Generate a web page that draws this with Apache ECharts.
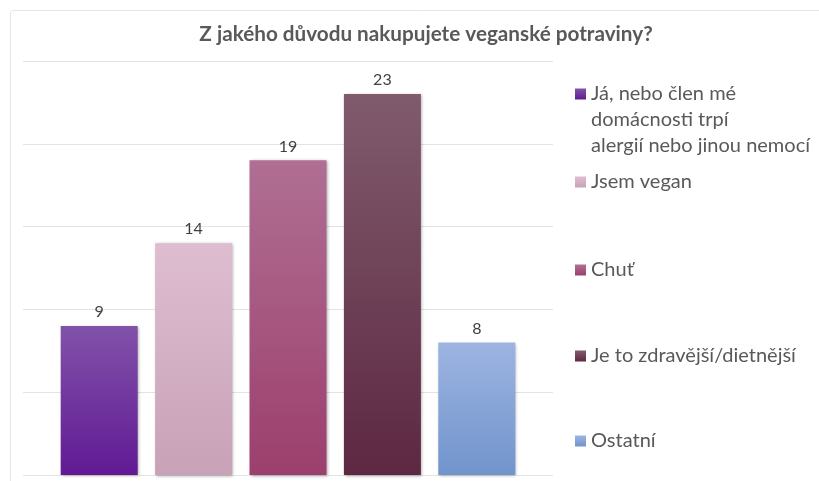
<!DOCTYPE html>
<html>
<head>
<meta charset="utf-8">
<script src="https://cdn.jsdelivr.net/npm/echarts@6/dist/echarts.min.js"></script>
<style>
  html, body { margin: 0; padding: 0; background: #fff; }
  #chart { width: 819px; height: 481px; }
</style>
</head>
<body>
<div id="chart"></div>
<script>
// data
const categories = [
  'Já, nebo člen mé\ndomácnosti trpí\nalergií nebo jinou nemocí',
  'Jsem vegan',
  'Chuť',
  'Je to zdravější/dietnější',
  'Ostatní'
];
const values = [9, 14, 19, 23, 8];
const yTicks = [0, 5, 10, 15, 20, 25];

// bar gradients, top -> bottom
const topColors = ['#8152a9', '#dfbdd0', '#b06f93', '#805b6d', '#9db4e1'];
const bottomColors = ['#611a94', '#c8a2b7', '#9c3f6c', '#5d2842', '#7194cd'];
const legendTops = [29, 169, 257, 343, 428];

const font = 'Lato, "Open Sans", sans-serif';

let chartDom = document.getElementById('chart');
let myChart = echarts.init(chartDom);

let series = categories.map(function (name, i) {
  return {
    name: name,
    type: 'bar',
    xAxisIndex: 1,
    yAxisIndex: 1,
    barGap: '-100%',
    barWidth: 77,
    data: values.map(function (v, j) { return j === i ? v : '-'; }),
    itemStyle: {
      color: new echarts.graphic.LinearGradient(0, 0, 0, 1, [
        { offset: 0, color: topColors[i] },
        { offset: 1, color: bottomColors[i] }
      ]),
      shadowColor: 'rgba(0,0,0,0.35)',
      shadowBlur: 3,
      shadowOffsetX: 1,
      shadowOffsetY: 1
    },
    label: {
      show: true,
      position: 'top',
      distance: 6,
      fontFamily: font,
      fontSize: 16,
      color: '#404040'
    }
  };
});

// one legend per item so the first (three-line) one can hang its lines below the icon
let legends = categories.map(function (name, i) {
  return {
    data: [name],
    left: 575,
    top: legendTops[i],
    padding: 0,
    icon: 'rect',
    itemWidth: 11,
    itemHeight: 11,
    itemGap: 0,
    selectedMode: false,
    formatter: function (n) {
      // two empty lines in front keep the first line level with the icon
      return i === 0 ? '\n\n' + n : n;
    },
    textStyle: {
      fontFamily: font,
      fontSize: 20,
      color: '#595959',
      lineHeight: 26
    }
  };
});

let option = {
  animation: false,
  title: {
    text: 'Z jakého důvodu nakupujete veganské potraviny?',
    left: 421,
    textAlign: 'center',
    top: 19,
    textStyle: {
      fontFamily: font,
      fontSize: 20.7,
      fontWeight: 'bold',
      color: '#595959'
    }
  },
  graphic: [{
    type: 'rect',
    shape: { x: 10.5, y: 10.5, width: 830, height: 490, r: 3 },
    style: { fill: 'none', stroke: '#e4e4e4', lineWidth: 1 },
    silent: true
  }],
  legend: legends,
  grid: [
    { left: 23, right: 266, top: 61, bottom: 6 },
    { left: 52, right: 295, top: 61, bottom: 6 }
  ],
  xAxis: [
    { type: 'category', gridIndex: 0, data: categories, show: false },
    {
      type: 'category', gridIndex: 1, data: categories,
      axisLine: { show: false }, axisTick: { show: false }, axisLabel: { show: false }
    }
  ],
  yAxis: [
    {
      type: 'value', gridIndex: 0,
      min: yTicks[0], max: yTicks[yTicks.length - 1], interval: 5,
      axisLine: { show: false }, axisTick: { show: false }, axisLabel: { show: false },
      splitLine: { lineStyle: { color: '#e3e3e3', width: 1 } }
    },
    {
      type: 'value', gridIndex: 1,
      min: yTicks[0], max: yTicks[yTicks.length - 1], interval: 5,
      show: false,
      splitLine: { show: false }
    }
  ],
  series: series
};
myChart.setOption(option);
</script>
</body>
</html>
